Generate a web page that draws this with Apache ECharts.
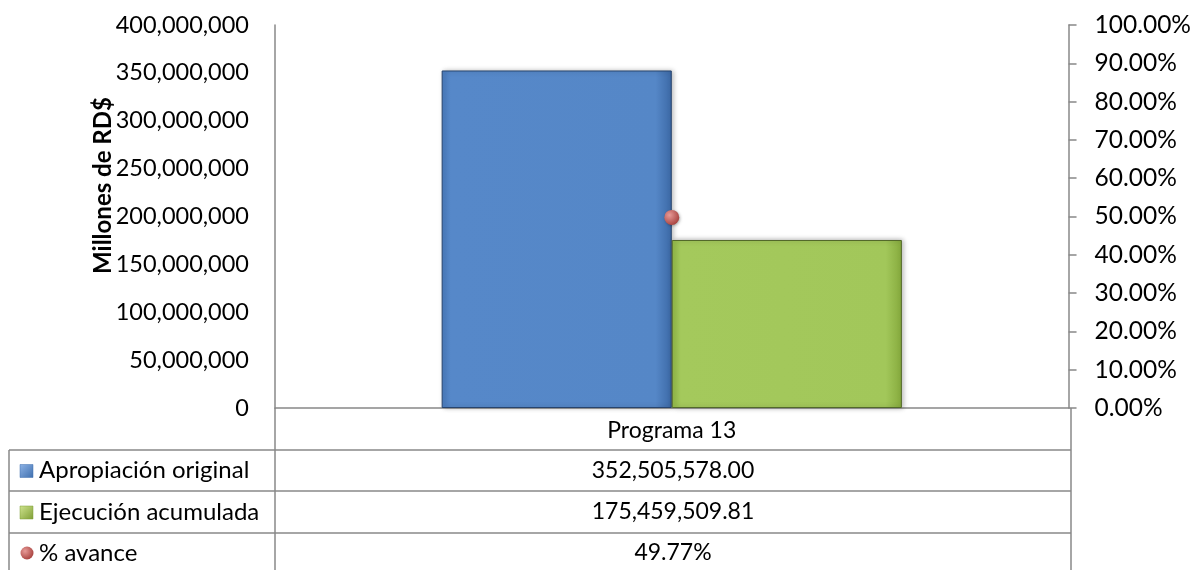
<!DOCTYPE html>
<html>
<head>
<meta charset="utf-8">
<script src="https://cdn.jsdelivr.net/npm/echarts@6/dist/echarts.min.js"></script>
<style>
  html, body { margin: 0; padding: 0; background: #fff; }
  #chart { width: 1194px; height: 570px; }
</style>
</head>
<body>
<div id="chart"></div>
<script>
// datos del gráfico
const categories = ['Programa 13'];
const apropiacion = [352505578.00];
const ejecucion = [175459509.81];
const avance = [0.4977];
const seriesNames = ['Apropiación original', 'Ejecución acumulada', '% avance'];

const FONT = 'Lato';
const LINE = '#888888';

// geometría del área de trazado y de la tabla de datos
const W = 1194, H = 570;
const gridL = 275, gridR = 1071, gridT = 25, gridB = 408;
const tableL = 9;
const rowLines = [450, 491, 533];

const fmtNum = v => v.toLocaleString('en-US', { minimumFractionDigits: 2, maximumFractionDigits: 2 });
const fmtInt = v => Math.round(v).toLocaleString('en-US');
const fmtPct = v => (v * 100).toFixed(2) + '%';

const myChart = echarts.init(document.getElementById('chart'));

function buildTable() {
  const g = [];
  const line = (x1, y1, x2, y2) => g.push({
    type: 'line', silent: true,
    shape: { x1, y1, x2, y2 },
    style: { stroke: LINE, lineWidth: 1.5 }
  });
  // líneas de la tabla
  rowLines.forEach(y => line(tableL, y, gridR, y));
  line(tableL, rowLines[0], tableL, H);
  line(gridL, gridB, gridL, H);
  line(gridR, gridB, gridR, H);

  const cx = (gridL + gridR) / 2;
  const rowValues = [
    fmtNum(apropiacion[0]),
    fmtNum(ejecucion[0]),
    fmtPct(avance[0])
  ];
  const rowMid = [
    (rowLines[0] + rowLines[1]) / 2,
    (rowLines[1] + rowLines[2]) / 2,
    rowLines[2] + 20
  ];
  const keyColors = [
    { c1: '#8db3e6', c2: '#3f6fae' },
    { c1: '#cfe48f', c2: '#7f9e35' }
  ];
  rowValues.forEach((txt, i) => {
    g.push({
      type: 'text', silent: true,
      style: { x: cx, y: rowMid[i], text: txt, fill: '#000', font: '23px ' + FONT,
               align: 'center', verticalAlign: 'middle' }
    });
    g.push({
      type: 'text', silent: true,
      style: { x: 39, y: rowMid[i], text: seriesNames[i], fill: '#000', font: '24px ' + FONT,
               align: 'left', verticalAlign: 'middle' }
    });
    if (i < 2) {
      g.push({
        type: 'rect', silent: true,
        shape: { x: 20, y: rowMid[i] - 6, width: 13, height: 13 },
        style: {
          fill: new echarts.graphic.LinearGradient(0, 0, 1, 1, [
            { offset: 0, color: keyColors[i].c1 },
            { offset: 1, color: keyColors[i].c2 }
          ]),
          stroke: keyColors[i].c2, lineWidth: 0.5
        }
      });
    } else {
      g.push({
        type: 'circle', silent: true,
        shape: { cx: 27, cy: rowMid[i], r: 6.5 },
        style: {
          fill: new echarts.graphic.RadialGradient(0.35, 0.35, 0.7, [
            { offset: 0, color: '#e79a97' },
            { offset: 1, color: '#a8423f' }
          ])
        }
      });
    }
  });
  return g;
}

const option = {
  animation: false,
  textStyle: { fontFamily: FONT },
  grid: { left: gridL, right: W - gridR, top: gridT, bottom: H - gridB, containLabel: false },
  xAxis: {
    type: 'category',
    data: categories,
    axisLine: { lineStyle: { color: LINE, width: 1.5 } },
    axisTick: { show: false },
    axisLabel: { color: '#000', fontSize: 23, fontFamily: FONT, margin: 11 }
  },
  yAxis: [
    {
      type: 'value',
      min: 0, max: 400000000, interval: 50000000,
      name: 'Millones de RD$',
      nameLocation: 'middle',
      nameRotate: 90,
      nameGap: 160,
      nameMoveOverlap: false,
      nameTextStyle: { color: '#000', fontSize: 24, fontWeight: 'bold', fontFamily: FONT,
                       padding: [0, 0, 0, 62] },
      axisLine: { show: true, lineStyle: { color: LINE, width: 1.5 } },
      axisTick: { show: false },
      splitLine: { show: false },
      axisLabel: { color: '#000', fontSize: 23.5, fontFamily: FONT, margin: 26, formatter: v => fmtInt(v) }
    },
    {
      type: 'value',
      min: 0, max: 1, interval: 0.1,
      position: 'right',
      axisLine: { show: true, lineStyle: { color: LINE, width: 1.5 } },
      axisTick: { show: true, length: 8, lineStyle: { color: LINE, width: 1.5 } },
      splitLine: { show: false },
      axisLabel: { color: '#000', fontSize: 24.5, fontFamily: FONT, margin: 26, formatter: v => fmtPct(v) }
    }
  ],
  series: [
    {
      name: seriesNames[0],
      type: 'bar',
      data: apropiacion,
      barGap: '0%',
      barCategoryGap: '42%',
      itemStyle: {
        color: new echarts.graphic.LinearGradient(0, 0, 1, 0, [
          { offset: 0, color: '#4b7dc0' },
          { offset: 0.04, color: '#5688c9' },
          { offset: 0.93, color: '#5587c7' },
          { offset: 1, color: '#3c69a6' }
        ]),
        borderColor: '#27446e',
        borderWidth: 1,
        shadowColor: 'rgba(0,0,0,0.3)',
        shadowBlur: 5,
        shadowOffsetX: 2
      }
    },
    {
      name: seriesNames[1],
      type: 'bar',
      data: ejecucion,
      itemStyle: {
        color: new echarts.graphic.LinearGradient(0, 0, 1, 0, [
          { offset: 0, color: '#94bb48' },
          { offset: 0.04, color: '#a4c95c' },
          { offset: 0.93, color: '#a2c75a' },
          { offset: 1, color: '#86aa3d' }
        ]),
        borderColor: '#52692a',
        borderWidth: 1,
        shadowColor: 'rgba(0,0,0,0.3)',
        shadowBlur: 5,
        shadowOffsetX: 2
      }
    },
    {
      name: seriesNames[2],
      type: 'line',
      yAxisIndex: 1,
      data: avance,
      symbol: 'circle',
      symbolSize: 15,
      lineStyle: { width: 0 },
      z: 5,
      itemStyle: {
        color: new echarts.graphic.RadialGradient(0.35, 0.35, 0.7, [
          { offset: 0, color: '#e79a97' },
          { offset: 1, color: '#a8423f' }
        ]),
        shadowColor: 'rgba(0,0,0,0.3)',
        shadowBlur: 3,
        shadowOffsetX: 1,
        shadowOffsetY: 1
      }
    }
  ],
  graphic: buildTable()
};

myChart.setOption(option);
</script>
</body>
</html>
